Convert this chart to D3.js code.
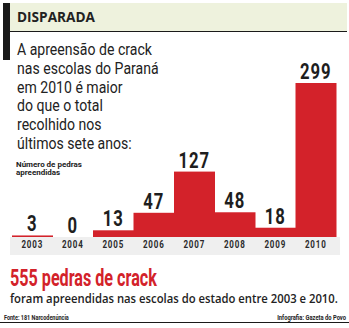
<!DOCTYPE html>
<html>
<head>
<meta charset="utf-8">
<script src="https://cdn.jsdelivr.net/npm/d3@7"></script>
<style>
  html, body { margin: 0; padding: 0; background: #fff; }
  svg { display: block; }
</style>
</head>
<body>
<svg id="chart" width="349" height="328"></svg>
<script>
// Crack stones seized in Paraná schools, by year
const years = ["2003", "2004", "2005", "2006", "2007", "2008", "2009", "2010"];
const stones = [3, 0, 13, 47, 127, 48, 18, 299];

const title = "DISPARADA";
const introLines = [
  "A apreensão de crack",
  "nas escolas do Paraná",
  "em 2010 é maior",
  "do que o total",
  "recolhido nos",
  "últimos sete anos:"
];
const axisNote = ["Número de pedras", "apreendidas"];
const headline = "555 pedras de crack";
const subline = "foram apreendidas nas escolas do estado entre 2003 e 2010.";
const source = "Fonte: 181 Narcodenúncia";
const credit = "Infografia: Gazeta do Povo";

const RED = "#d3222a";
const INK = "#1e1e1e";
const SANS = "Roboto, 'Open Sans', sans-serif";
const CONDENSE = 0.76;  // horizontal squeeze used for the condensed numerals

const svg = d3.select("#chart");

// Text helper: draws a string at (x, y) and squeezes it horizontally,
// either by a fixed factor or so that it spans a given width.
function label(parent, str, x, y, opts) {
  const t = parent.append("text")
    .attr("font-family", opts.family || SANS)
    .attr("font-weight", opts.weight || 400)
    .attr("font-size", opts.size)
    .attr("letter-spacing", opts.spacing || 0)
    .attr("text-anchor", opts.anchor || "start")
    .attr("fill", opts.fill || "#222")
    .text(str);
  let s = opts.scale || 1;
  if (opts.width) s = opts.width / t.node().getComputedTextLength();
  t.attr("transform", `translate(${x},${y}) scale(${s},1)`);
  return s;
}

// Header band with dark tab on the left
svg.append("rect").attr("x", 3).attr("y", 3).attr("width", 7).attr("height", 57).attr("fill", "#1a1a1a");
svg.append("rect").attr("x", 10).attr("y", 3).attr("width", 337).attr("height", 28).attr("fill", "#eef2dd");
svg.append("line").attr("x1", 10).attr("x2", 347).attr("y1", 31.5).attr("y2", 31.5)
  .attr("stroke", "#1a1a1a").attr("stroke-width", 1);
label(svg, title, 17, 22, { family: "'Open Sans', sans-serif", weight: 700, size: 14, width: 78 });

// Intro paragraph: every line shares the squeeze of the first one
const intro = svg.append("g");
const introScale = label(intro, introLines[0], 17, 55, { weight: 400, size: 16.5, width: 135 });
introLines.slice(1).forEach((line, i) =>
  label(intro, line, 17, 55 + (i + 1) * 18.8, { weight: 400, size: 16.5, scale: introScale }));

// Axis note
const note = svg.append("g");
const noteScale = label(note, axisNote[0], 16, 167, { weight: 700, size: 8, width: 66 });
label(note, axisNote[1], 16, 174.5, { weight: 700, size: 8, scale: noteScale });

// Scales
const x = d3.scaleBand().domain(years).range([12, 336]).padding(0);
const y = d3.scaleLinear().domain([0, 299]).range([237, 83]);

// Year strip
svg.append("rect").attr("x", 10).attr("y", 237).attr("width", 330).attr("height", 18).attr("fill", "#efefef");

const data = years.map((yr, i) => ({ year: yr, value: stones[i] }));

// Bars (contiguous columns)
svg.append("g").selectAll("rect").data(data.filter(d => d.value > 0)).join("rect")
  .attr("x", d => x(d.year))
  .attr("width", x.bandwidth() + 0.5)
  .attr("y", d => y(d.value))
  .attr("height", d => y(0) - y(d.value))
  .attr("fill", RED);

// Value labels
const values = svg.append("g");
data.forEach(d =>
  label(values, String(d.value), x(d.year) + x.bandwidth() / 2, y(d.value) - 4,
    { weight: 700, size: 22, spacing: 1.2, anchor: "middle", scale: CONDENSE, fill: INK }));

// Year axis
const axis = d3.axisBottom(x).tickSize(0).tickPadding(0);
const gx = svg.append("g").attr("transform", "translate(0,248)").call(axis);
gx.select(".domain").remove();
gx.selectAll("text")
  .attr("dy", 0)
  .attr("x", 0)
  .attr("font-family", SANS).attr("font-weight", 700).attr("font-size", 10)
  .attr("letter-spacing", 1).attr("fill", "#2a2a2a")
  .attr("transform", "scale(0.8,1)");

// Headline and summary
label(svg, headline, 10, 286, { weight: 700, size: 24, width: 147, fill: RED });
label(svg, subline, 10, 303, { family: "'Open Sans', sans-serif", weight: 600, size: 12.5, width: 328 });

// Footer
svg.append("line").attr("x1", 0).attr("x2", 349).attr("y1", 322.5).attr("y2", 322.5)
  .attr("stroke", "#1a1a1a").attr("stroke-width", 1);
label(svg, source, 4, 320, { weight: 700, size: 6.5, width: 65 });
label(svg, credit, 346, 320, { weight: 700, size: 6.5, width: 69, anchor: "end" });
</script>
</body>
</html>
